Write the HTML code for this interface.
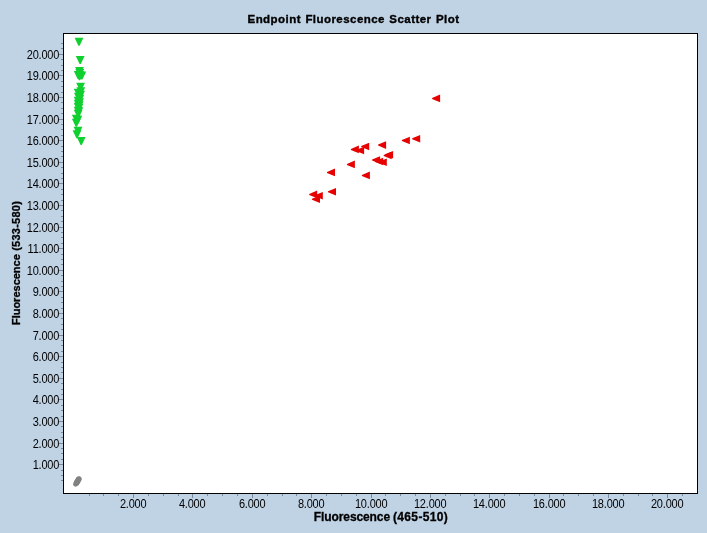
<!DOCTYPE html>
<html><head><meta charset="utf-8"><title>Endpoint Fluorescence Scatter Plot</title>
<style>
html,body{margin:0;padding:0;background:#c0d3e5;}
body{width:707px;height:533px;background:#c0d3e5;overflow:hidden;position:relative;font-family:"Liberation Sans",sans-serif;color:#000;}
#plot{position:absolute;left:63px;top:33px;width:633px;height:459px;border:1px solid #000;background:#fff;}
svg{position:absolute;left:0;top:0;}
.t{position:absolute;white-space:nowrap;line-height:14px;height:14px;}
.yl{font-size:11px;letter-spacing:-0.2px;text-align:right;width:59.2px;left:0;transform:scaleY(1.15);transform-origin:50% 50%;}
.xl{font-size:11px;letter-spacing:-0.2px;text-align:center;width:60px;transform:scaleY(1.15);transform-origin:50% 50%;}
#title{font-weight:bold;font-size:11.5px;letter-spacing:0.45px;word-spacing:0.8px;-webkit-text-stroke:0.35px #000;left:0;width:707px;text-align:center;top:12px;}
#xlabel{font-weight:bold;font-size:12px;-webkit-text-stroke:0.3px #000;left:81px;width:600px;text-align:center;top:510px;}
#ylabel{font-weight:bold;font-size:11px;-webkit-text-stroke:0.3px #000;left:16px;top:262.8px;width:0;height:0;}
#ylabel span{position:absolute;display:block;white-space:nowrap;transform:translate(-50%,-50%) rotate(-90deg);line-height:14px;}
</style></head><body>
<div id="plot"></div>
<div class="t" id="title">Endpoint Fluorescence Scatter Plot</div>
<div class="t" id="xlabel"><span style="letter-spacing:-0.1px">Fluorescence</span><span style="letter-spacing:0.35px;margin-left:-0.7px"> (465-510)</span></div>
<div class="t" id="ylabel"><span>Fluorescence<i style="font-style:normal;letter-spacing:0.25px"> (533-580)</i></span></div>

<div class="t yl" style="top:456.9px">1.000</div>
<div class="t yl" style="top:435.9px">2.000</div>
<div class="t yl" style="top:413.9px">3.000</div>
<div class="t yl" style="top:391.9px">4.000</div>
<div class="t yl" style="top:370.9px">5.000</div>
<div class="t yl" style="top:348.9px">6.000</div>
<div class="t yl" style="top:327.9px">7.000</div>
<div class="t yl" style="top:305.9px">8.000</div>
<div class="t yl" style="top:283.9px">9.000</div>
<div class="t yl" style="top:262.9px">10.000</div>
<div class="t yl" style="top:240.9px">11.000</div>
<div class="t yl" style="top:219.9px">12.000</div>
<div class="t yl" style="top:197.9px">13.000</div>
<div class="t yl" style="top:175.9px">14.000</div>
<div class="t yl" style="top:154.9px">15.000</div>
<div class="t yl" style="top:132.9px">16.000</div>
<div class="t yl" style="top:111.9px">17.000</div>
<div class="t yl" style="top:89.9px">18.000</div>
<div class="t yl" style="top:67.9px">19.000</div>
<div class="t yl" style="top:46.9px">20.000</div>
<div class="t xl" style="left:103.2px;top:496.2px">2.000</div>
<div class="t xl" style="left:162.2px;top:496.2px">4.000</div>
<div class="t xl" style="left:222.2px;top:496.2px">6.000</div>
<div class="t xl" style="left:281.2px;top:496.2px">8.000</div>
<div class="t xl" style="left:341.2px;top:496.2px">10.000</div>
<div class="t xl" style="left:400.2px;top:496.2px">12.000</div>
<div class="t xl" style="left:459.2px;top:496.2px">14.000</div>
<div class="t xl" style="left:519.2px;top:496.2px">16.000</div>
<div class="t xl" style="left:578.2px;top:496.2px">18.000</div>
<div class="t xl" style="left:637.2px;top:496.2px">20.000</div>
<svg width="707" height="533" viewBox="0 0 707 533" shape-rendering="crispEdges">
<rect x="61" y="480" width="2" height="1" fill="#7b8a9c"/>
<rect x="61" y="475" width="2" height="1" fill="#7b8a9c"/>
<rect x="61" y="470" width="2" height="1" fill="#7b8a9c"/>
<rect x="59" y="464" width="4" height="1" fill="#7b8a9c"/>
<rect x="61" y="459" width="2" height="1" fill="#7b8a9c"/>
<rect x="61" y="453" width="2" height="1" fill="#7b8a9c"/>
<rect x="61" y="448" width="2" height="1" fill="#7b8a9c"/>
<rect x="59" y="443" width="4" height="1" fill="#7b8a9c"/>
<rect x="61" y="437" width="2" height="1" fill="#7b8a9c"/>
<rect x="61" y="432" width="2" height="1" fill="#7b8a9c"/>
<rect x="61" y="426" width="2" height="1" fill="#7b8a9c"/>
<rect x="59" y="421" width="4" height="1" fill="#7b8a9c"/>
<rect x="61" y="416" width="2" height="1" fill="#7b8a9c"/>
<rect x="61" y="410" width="2" height="1" fill="#7b8a9c"/>
<rect x="61" y="405" width="2" height="1" fill="#7b8a9c"/>
<rect x="59" y="399" width="4" height="1" fill="#7b8a9c"/>
<rect x="61" y="394" width="2" height="1" fill="#7b8a9c"/>
<rect x="61" y="389" width="2" height="1" fill="#7b8a9c"/>
<rect x="61" y="383" width="2" height="1" fill="#7b8a9c"/>
<rect x="59" y="378" width="4" height="1" fill="#7b8a9c"/>
<rect x="61" y="372" width="2" height="1" fill="#7b8a9c"/>
<rect x="61" y="367" width="2" height="1" fill="#7b8a9c"/>
<rect x="61" y="362" width="2" height="1" fill="#7b8a9c"/>
<rect x="59" y="356" width="4" height="1" fill="#7b8a9c"/>
<rect x="61" y="351" width="2" height="1" fill="#7b8a9c"/>
<rect x="61" y="345" width="2" height="1" fill="#7b8a9c"/>
<rect x="61" y="340" width="2" height="1" fill="#7b8a9c"/>
<rect x="59" y="335" width="4" height="1" fill="#7b8a9c"/>
<rect x="61" y="329" width="2" height="1" fill="#7b8a9c"/>
<rect x="61" y="324" width="2" height="1" fill="#7b8a9c"/>
<rect x="61" y="318" width="2" height="1" fill="#7b8a9c"/>
<rect x="59" y="313" width="4" height="1" fill="#7b8a9c"/>
<rect x="61" y="308" width="2" height="1" fill="#7b8a9c"/>
<rect x="61" y="302" width="2" height="1" fill="#7b8a9c"/>
<rect x="61" y="297" width="2" height="1" fill="#7b8a9c"/>
<rect x="59" y="291" width="4" height="1" fill="#7b8a9c"/>
<rect x="61" y="286" width="2" height="1" fill="#7b8a9c"/>
<rect x="61" y="281" width="2" height="1" fill="#7b8a9c"/>
<rect x="61" y="275" width="2" height="1" fill="#7b8a9c"/>
<rect x="59" y="270" width="4" height="1" fill="#7b8a9c"/>
<rect x="61" y="264" width="2" height="1" fill="#7b8a9c"/>
<rect x="61" y="259" width="2" height="1" fill="#7b8a9c"/>
<rect x="61" y="254" width="2" height="1" fill="#7b8a9c"/>
<rect x="59" y="248" width="4" height="1" fill="#7b8a9c"/>
<rect x="61" y="243" width="2" height="1" fill="#7b8a9c"/>
<rect x="61" y="237" width="2" height="1" fill="#7b8a9c"/>
<rect x="61" y="232" width="2" height="1" fill="#7b8a9c"/>
<rect x="59" y="227" width="4" height="1" fill="#7b8a9c"/>
<rect x="61" y="221" width="2" height="1" fill="#7b8a9c"/>
<rect x="61" y="216" width="2" height="1" fill="#7b8a9c"/>
<rect x="61" y="210" width="2" height="1" fill="#7b8a9c"/>
<rect x="59" y="205" width="4" height="1" fill="#7b8a9c"/>
<rect x="61" y="200" width="2" height="1" fill="#7b8a9c"/>
<rect x="61" y="194" width="2" height="1" fill="#7b8a9c"/>
<rect x="61" y="189" width="2" height="1" fill="#7b8a9c"/>
<rect x="59" y="183" width="4" height="1" fill="#7b8a9c"/>
<rect x="61" y="178" width="2" height="1" fill="#7b8a9c"/>
<rect x="61" y="173" width="2" height="1" fill="#7b8a9c"/>
<rect x="61" y="167" width="2" height="1" fill="#7b8a9c"/>
<rect x="59" y="162" width="4" height="1" fill="#7b8a9c"/>
<rect x="61" y="156" width="2" height="1" fill="#7b8a9c"/>
<rect x="61" y="151" width="2" height="1" fill="#7b8a9c"/>
<rect x="61" y="146" width="2" height="1" fill="#7b8a9c"/>
<rect x="59" y="140" width="4" height="1" fill="#7b8a9c"/>
<rect x="61" y="135" width="2" height="1" fill="#7b8a9c"/>
<rect x="61" y="129" width="2" height="1" fill="#7b8a9c"/>
<rect x="61" y="124" width="2" height="1" fill="#7b8a9c"/>
<rect x="59" y="119" width="4" height="1" fill="#7b8a9c"/>
<rect x="61" y="113" width="2" height="1" fill="#7b8a9c"/>
<rect x="61" y="108" width="2" height="1" fill="#7b8a9c"/>
<rect x="61" y="102" width="2" height="1" fill="#7b8a9c"/>
<rect x="59" y="97" width="4" height="1" fill="#7b8a9c"/>
<rect x="61" y="92" width="2" height="1" fill="#7b8a9c"/>
<rect x="61" y="86" width="2" height="1" fill="#7b8a9c"/>
<rect x="61" y="81" width="2" height="1" fill="#7b8a9c"/>
<rect x="59" y="75" width="4" height="1" fill="#7b8a9c"/>
<rect x="61" y="70" width="2" height="1" fill="#7b8a9c"/>
<rect x="61" y="65" width="2" height="1" fill="#7b8a9c"/>
<rect x="61" y="59" width="2" height="1" fill="#7b8a9c"/>
<rect x="59" y="54" width="4" height="1" fill="#7b8a9c"/>
<rect x="61" y="48" width="2" height="1" fill="#7b8a9c"/>
<rect x="61" y="43" width="2" height="1" fill="#7b8a9c"/>
<rect x="89" y="494" width="1" height="2" fill="#7b8a9c"/>
<rect x="103" y="494" width="1" height="2" fill="#7b8a9c"/>
<rect x="118" y="494" width="1" height="2" fill="#7b8a9c"/>
<rect x="133" y="494" width="1" height="4" fill="#7b8a9c"/>
<rect x="148" y="494" width="1" height="2" fill="#7b8a9c"/>
<rect x="163" y="494" width="1" height="2" fill="#7b8a9c"/>
<rect x="178" y="494" width="1" height="2" fill="#7b8a9c"/>
<rect x="192" y="494" width="1" height="4" fill="#7b8a9c"/>
<rect x="207" y="494" width="1" height="2" fill="#7b8a9c"/>
<rect x="222" y="494" width="1" height="2" fill="#7b8a9c"/>
<rect x="237" y="494" width="1" height="2" fill="#7b8a9c"/>
<rect x="252" y="494" width="1" height="4" fill="#7b8a9c"/>
<rect x="267" y="494" width="1" height="2" fill="#7b8a9c"/>
<rect x="282" y="494" width="1" height="2" fill="#7b8a9c"/>
<rect x="296" y="494" width="1" height="2" fill="#7b8a9c"/>
<rect x="311" y="494" width="1" height="4" fill="#7b8a9c"/>
<rect x="326" y="494" width="1" height="2" fill="#7b8a9c"/>
<rect x="341" y="494" width="1" height="2" fill="#7b8a9c"/>
<rect x="356" y="494" width="1" height="2" fill="#7b8a9c"/>
<rect x="371" y="494" width="1" height="4" fill="#7b8a9c"/>
<rect x="385" y="494" width="1" height="2" fill="#7b8a9c"/>
<rect x="400" y="494" width="1" height="2" fill="#7b8a9c"/>
<rect x="415" y="494" width="1" height="2" fill="#7b8a9c"/>
<rect x="430" y="494" width="1" height="4" fill="#7b8a9c"/>
<rect x="445" y="494" width="1" height="2" fill="#7b8a9c"/>
<rect x="460" y="494" width="1" height="2" fill="#7b8a9c"/>
<rect x="474" y="494" width="1" height="2" fill="#7b8a9c"/>
<rect x="489" y="494" width="1" height="4" fill="#7b8a9c"/>
<rect x="504" y="494" width="1" height="2" fill="#7b8a9c"/>
<rect x="519" y="494" width="1" height="2" fill="#7b8a9c"/>
<rect x="534" y="494" width="1" height="2" fill="#7b8a9c"/>
<rect x="549" y="494" width="1" height="4" fill="#7b8a9c"/>
<rect x="563" y="494" width="1" height="2" fill="#7b8a9c"/>
<rect x="578" y="494" width="1" height="2" fill="#7b8a9c"/>
<rect x="593" y="494" width="1" height="2" fill="#7b8a9c"/>
<rect x="608" y="494" width="1" height="4" fill="#7b8a9c"/>
<rect x="623" y="494" width="1" height="2" fill="#7b8a9c"/>
<rect x="638" y="494" width="1" height="2" fill="#7b8a9c"/>
<rect x="652" y="494" width="1" height="2" fill="#7b8a9c"/>
<rect x="667" y="494" width="1" height="4" fill="#7b8a9c"/>
<rect x="682" y="494" width="1" height="2" fill="#7b8a9c"/>
</svg>
<svg width="707" height="533" viewBox="0 0 707 533">
<path d="M74.6 37.8h8.8l-3.8 8h-1.2z" fill="#10d030"/>
<path d="M75.8 56.1h8.8l-3.8 8h-1.2z" fill="#10d030"/>
<path d="M75.1 67.1h8.8l-3.8 8h-1.2z" fill="#10d030"/>
<path d="M75.4 69.0h8.8l-3.8 8h-1.2z" fill="#10d030"/>
<path d="M73.8 71.1h8.8l-3.8 8h-1.2z" fill="#10d030"/>
<path d="M77.4 71.4h8.8l-3.8 8h-1.2z" fill="#10d030"/>
<path d="M75.6 71.3h8.8l-3.8 8h-1.2z" fill="#10d030"/>
<path d="M75.1 72.3h8.8l-3.8 8h-1.2z" fill="#10d030"/>
<path d="M76.2 82.8h8.8l-3.8 8h-1.2z" fill="#10d030"/>
<path d="M76.4 87.3h8.8l-3.8 8h-1.2z" fill="#10d030"/>
<path d="M73.8 88.8h8.8l-3.8 8h-1.2z" fill="#10d030"/>
<path d="M76.2 90.8h8.8l-3.8 8h-1.2z" fill="#10d030"/>
<path d="M74.0 92.8h8.8l-3.8 8h-1.2z" fill="#10d030"/>
<path d="M75.4 94.8h8.8l-3.8 8h-1.2z" fill="#10d030"/>
<path d="M75.2 98.3h8.8l-3.8 8h-1.2z" fill="#10d030"/>
<path d="M74.8 101.3h8.8l-3.8 8h-1.2z" fill="#10d030"/>
<path d="M74.4 107.3h8.8l-3.8 8h-1.2z" fill="#10d030"/>
<path d="M73.8 96.8h8.8l-3.8 8h-1.2z" fill="#10d030"/>
<path d="M73.8 99.8h8.8l-3.8 8h-1.2z" fill="#10d030"/>
<path d="M73.8 102.8h8.8l-3.8 8h-1.2z" fill="#10d030"/>
<path d="M74.4 104.1h8.8l-3.8 8h-1.2z" fill="#10d030"/>
<path d="M73.8 106.8h8.8l-3.8 8h-1.2z" fill="#10d030"/>
<path d="M73.8 109.8h8.8l-3.8 8h-1.2z" fill="#10d030"/>
<path d="M71.9 114.8h8.8l-3.8 8h-1.2z" fill="#10d030"/>
<path d="M73.4 115.8h8.8l-3.8 8h-1.2z" fill="#10d030"/>
<path d="M71.9 118.8h8.8l-3.8 8h-1.2z" fill="#10d030"/>
<path d="M73.6 126.8h8.8l-3.8 8h-1.2z" fill="#10d030"/>
<path d="M72.6 130.2h8.8l-3.8 8h-1.2z" fill="#10d030"/>
<path d="M76.8 137.1h8.8l-3.8 8h-1.2z" fill="#10d030"/>
<path d="M440.1 94.6v7.6l-8 -3.3v-1z" fill="#e60000"/>
<path d="M420.2 134.9v7.6l-8 -3.3v-1z" fill="#e60000"/>
<path d="M409.9 136.7v7.6l-8 -3.3v-1z" fill="#e60000"/>
<path d="M386.1 141.3v7.6l-8 -3.3v-1z" fill="#e60000"/>
<path d="M369.2 142.7v7.6l-8 -3.3v-1z" fill="#e60000"/>
<path d="M358.9 145.6v7.6l-8 -3.3v-1z" fill="#e60000"/>
<path d="M364.1 146.7v7.6l-8 -3.3v-1z" fill="#e60000"/>
<path d="M393.1 151.0v7.6l-8 -3.3v-1z" fill="#e60000"/>
<path d="M391.7 151.7v7.6l-8 -3.3v-1z" fill="#e60000"/>
<path d="M380.1 156.2v7.6l-8 -3.3v-1z" fill="#e60000"/>
<path d="M386.8 158.4v7.6l-8 -3.3v-1z" fill="#e60000"/>
<path d="M383.2 157.7v7.6l-8 -3.3v-1z" fill="#e60000"/>
<path d="M354.9 160.6v7.6l-8 -3.3v-1z" fill="#e60000"/>
<path d="M335.0 168.6v7.6l-8 -3.3v-1z" fill="#e60000"/>
<path d="M369.9 171.6v7.6l-8 -3.3v-1z" fill="#e60000"/>
<path d="M336.0 188.0v7.6l-8 -3.3v-1z" fill="#e60000"/>
<path d="M317.2 190.6v7.6l-8 -3.3v-1z" fill="#e60000"/>
<path d="M322.8 192.0v7.6l-8 -3.3v-1z" fill="#e60000"/>
<path d="M320.0 195.5v7.6l-8 -3.3v-1z" fill="#e60000"/>
<circle cx="75.6" cy="484.2" r="2.45" fill="#828282"/>
<circle cx="76.0" cy="483.0" r="2.45" fill="#828282"/>
<circle cx="76.9" cy="483.4" r="2.45" fill="#828282"/>
<circle cx="76.6" cy="481.9" r="2.45" fill="#828282"/>
<circle cx="77.6" cy="482.2" r="2.45" fill="#828282"/>
<circle cx="77.3" cy="480.8" r="2.45" fill="#828282"/>
<circle cx="78.3" cy="481.0" r="2.45" fill="#828282"/>
<circle cx="78.0" cy="479.7" r="2.45" fill="#828282"/>
<circle cx="79.0" cy="479.8" r="2.45" fill="#828282"/>
<circle cx="78.6" cy="478.6" r="2.45" fill="#828282"/>
<circle cx="79.3" cy="478.9" r="2.45" fill="#828282"/>
</svg>
</body></html>
